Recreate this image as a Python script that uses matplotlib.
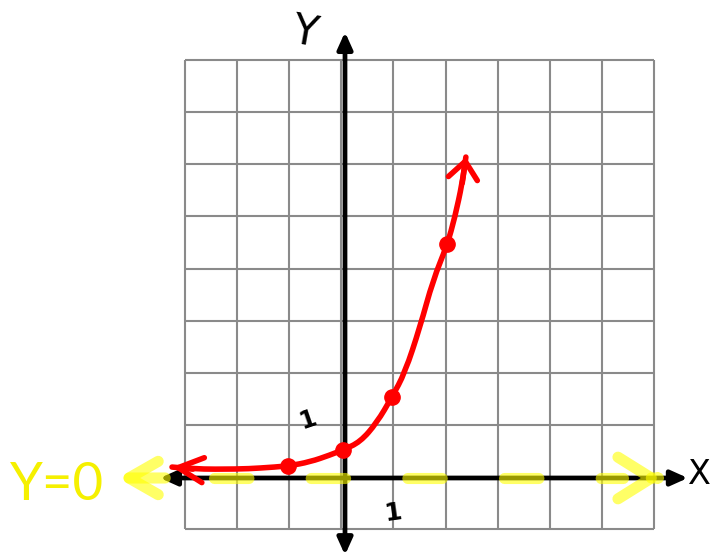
import matplotlib
matplotlib.use('Agg')
import matplotlib.pyplot as plt
from matplotlib.path import Path
from matplotlib.patches import PathPatch
import numpy as np

# sketch of y = a * b^x on graph paper, with the asymptote y = 0
grid_cols = np.arange(-3, 7) - 0.07
grid_rows = np.arange(-1, 9) + 0.02

curve_x = [-3.32, -2.92, -2.07, -1.63, -1.09, -0.67, -0.29, -0.04, 0.29,
           0.61, 0.90, 1.15, 1.44, 1.69, 1.96, 2.11, 2.25, 2.32]
curve_y = [0.21, 0.17, 0.17, 0.19, 0.23, 0.31, 0.44, 0.54, 0.69,
           1.06, 1.55, 2.02, 2.90, 3.80, 4.47, 5.01, 5.66, 6.16]

point_x = [-1.09, -0.04, 0.90, 1.96]
point_y = [0.23, 0.54, 1.55, 4.49]

asymptote_y = 0
asymptote_label = 'Y=0'

x_axis_range = (-3.55, 6.58)
y_axis_range = (-1.48, 8.56)

unit_px = 52.1
fig = plt.figure(figsize=(7.16, 5.56), dpi=100)
ax = fig.add_axes([0, 0, 1, 1])
ax.set_xlim(-345 / unit_px, 371 / unit_px)
ax.set_ylim(-78 / unit_px, 478 / unit_px)
ax.axis('off')

# graph paper
ax.vlines(grid_cols, grid_rows[0], grid_rows[-1], color='#8a8a8a', lw=1.5, zorder=1)
ax.hlines(grid_rows, grid_cols[0], grid_cols[-1], color='#8a8a8a', lw=1.5, zorder=1)

# axes with arrow tips
ax.annotate('', xy=(x_axis_range[1], 0), xytext=(x_axis_range[0], 0),
            arrowprops=dict(arrowstyle='<|-|>,head_length=1.0,head_width=0.45',
                            color='black', lw=3.4, shrinkA=0, shrinkB=0), zorder=3)
ax.annotate('', xy=(0, y_axis_range[1]), xytext=(0, y_axis_range[0]),
            arrowprops=dict(arrowstyle='<|-|>,head_length=1.0,head_width=0.45',
                            color='black', lw=3.4, shrinkA=0, shrinkB=0), zorder=3)
ax.text(6.81, 0.06, 'X', fontsize=24, ha='center', va='center', color='black')
ax.text(-0.77, 8.56, 'Y', fontsize=30, ha='center', va='center', color='black', rotation=-10)
ax.text(-0.71, 1.11, '1', fontsize=17, fontweight='bold', ha='center', va='center',
        color='black', rotation=19)
ax.text(0.91, -0.67, '1', fontsize=18, fontweight='bold', ha='center', va='center',
        color='black', rotation=8)

# dashed asymptote in highlighter yellow
yel = '#ffff00'
ax.plot([-2.52, 5.33], [asymptote_y, asymptote_y], color=yel, alpha=0.6, lw=8,
        dashes=(3.1, 5.6), dash_capstyle='round', zorder=4)
ax.annotate('', xy=(-4.36, asymptote_y), xytext=(-3.45, asymptote_y),
            arrowprops=dict(arrowstyle='->,head_length=2.1,head_width=1.2',
                            color=yel, alpha=0.6, lw=8, shrinkA=0, shrinkB=0,
                            capstyle='round', joinstyle='round'), zorder=4)
ax.annotate('', xy=(6.08, asymptote_y), xytext=(6.0, asymptote_y),
            arrowprops=dict(arrowstyle='->,head_length=2.4,head_width=1.5',
                            color=yel, alpha=0.6, lw=8, shrinkA=0, shrinkB=0,
                            capstyle='round', joinstyle='round'), zorder=4)
ax.text(-5.53, -0.15, asymptote_label, fontsize=38, family='Lato',
        color='#f5f000', ha='center', va='center')

# the exponential curve, smoothed with quadratic segments through the midpoints
red = '#ff0000'
pts = np.column_stack([curve_x, curve_y])
verts = [pts[0]]
codes = [Path.MOVETO]
for i in range(1, len(pts) - 1):
    verts += [pts[i], (pts[i] + pts[i + 1]) / 2]
    codes += [Path.CURVE3, Path.CURVE3]
verts.append(pts[-1])
codes.append(Path.LINETO)
ax.add_patch(PathPatch(Path(verts, codes), facecolor='none', edgecolor=red,
                       lw=4, capstyle='round', joinstyle='round', zorder=5))
ax.plot(point_x, point_y, 'o', color=red, ms=11, zorder=6)
ax.annotate('', xy=(curve_x[-1], curve_y[-1]), xytext=(curve_x[-2], curve_y[-2]),
            arrowprops=dict(arrowstyle='->,head_length=1.25,head_width=1.05',
                            color=red, lw=4, shrinkA=0, shrinkB=0,
                            capstyle='round', joinstyle='round'), zorder=5)
ax.annotate('', xy=(curve_x[0], curve_y[0]), xytext=(curve_x[1], curve_y[1]),
            arrowprops=dict(arrowstyle='->,head_length=1.8,head_width=0.9',
                            color=red, lw=4, shrinkA=0, shrinkB=0,
                            capstyle='round', joinstyle='round'), zorder=5)

fig.savefig('out.png', dpi=100)
